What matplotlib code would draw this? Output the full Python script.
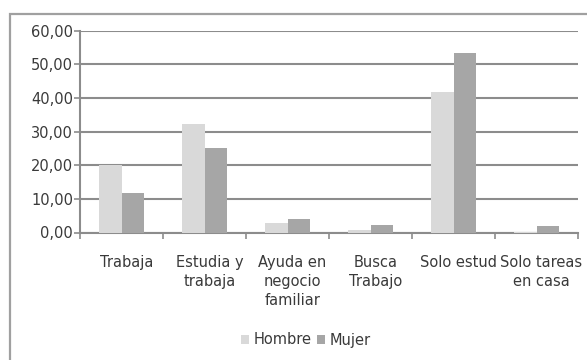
import matplotlib

matplotlib.use("Agg")
import matplotlib.pyplot as plt
import matplotlib.transforms as mtransforms
from matplotlib.patches import Rectangle
from matplotlib.ticker import FuncFormatter, FixedLocator
import numpy as np

categories = [
    "Trabaja",
    "Estudia y\ntrabaja",
    "Ayuda en\nnegocio\nfamiliar",
    "Busca\nTrabajo",
    "Solo estud",
    "Solo tareas\nen casa",
]
hombre = [20.2, 32.4, 2.8, 0.6, 41.9, 0.1]
mujer = [11.6, 25.1, 3.9, 2.1, 53.3, 1.8]
series_labels = ["Hombre", "Mujer"]
y_ticks = [0, 10, 20, 30, 40, 50, 60]

color_h = "#d9d9d9"
color_m = "#a6a6a6"
grid_color = "#8c8c8c"
text_color = "#3a3a3a"

W, H = 587, 360
fig = plt.figure(figsize=(W / 100, H / 100), dpi=100)
fig.patch.set_facecolor("white")

# outer chart frame (left and top edges visible)
fig.patches.append(Rectangle((10 / W, -0.1), 1.2, 1 - 14 / H + 0.1,
                             transform=fig.transFigure, fill=False,
                             edgecolor="#a0a0a0", linewidth=1.6))

ax = fig.add_axes([80 / W, 1 - 232.5 / H, (578 - 80) / W, (232.5 - 30.7) / H])

x = np.arange(len(categories))
bw = 0.27
ax.bar(x - bw / 2, hombre, bw, color=color_h, label=series_labels[0], zorder=3)
ax.bar(x + bw / 2, mujer, bw, color=color_m, label=series_labels[1], zorder=3)

ax.set_xlim(-0.5, len(categories) - 0.5)
ax.set_ylim(0, 60)
ax.set_yticks(y_ticks)
ax.yaxis.set_major_formatter(FuncFormatter(lambda v, _: f"{v:.2f}".replace(".", ",")))
ax.yaxis.grid(True, color=grid_color, linewidth=1.5, zorder=1)
ax.set_axisbelow(True)

for s in ("top", "right"):
    ax.spines[s].set_visible(False)
for s in ("left", "bottom"):
    ax.spines[s].set_color(grid_color)
    ax.spines[s].set_linewidth(1.5)

# category boundaries carry the tick marks, labels sit between them
ax.xaxis.set_major_locator(FixedLocator(np.arange(len(categories) + 1) - 0.5))
ax.xaxis.set_major_formatter(FuncFormatter(lambda v, _: ""))
ax.xaxis.set_minor_locator(FixedLocator(x))
ax.set_xticklabels(categories, minor=True)
ax.tick_params(axis="x", which="major", length=4, width=1.2, color=grid_color, direction="out")
ax.tick_params(axis="x", which="minor", length=0, pad=16, labelsize=10.5, labelcolor=text_color)
ax.tick_params(axis="y", length=4, width=1.2, color=grid_color, pad=1,
               labelsize=10.5, labelcolor=text_color)

offset = mtransforms.ScaledTranslation(5 / 100, 0, fig.dpi_scale_trans)
for lbl in ax.get_xminorticklabels():
    lbl.set_linespacing(1.35)
    lbl.set_transform(lbl.get_transform() + offset)

leg = fig.legend(loc="center", bbox_to_anchor=(306 / W, 1 - 340 / H), ncol=2,
                 frameon=False, fontsize=10.5, handlelength=0.55, handleheight=0.55,
                 handletextpad=0.3, columnspacing=0.4, labelcolor=text_color)

fig.savefig("out.png", dpi=100)
